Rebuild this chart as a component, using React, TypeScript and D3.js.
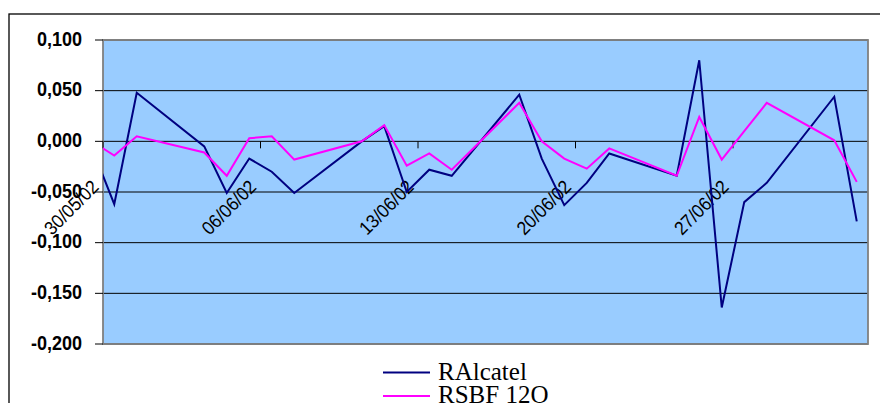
import React from "react";
import * as d3 from "d3";

// Daily returns, trading days only
const dates = [
  "2002-05-29", "2002-05-30", "2002-05-31", "2002-06-03", "2002-06-04",
  "2002-06-05", "2002-06-06", "2002-06-07", "2002-06-10", "2002-06-11",
  "2002-06-12", "2002-06-13", "2002-06-14", "2002-06-17", "2002-06-18",
  "2002-06-19", "2002-06-20", "2002-06-21", "2002-06-24", "2002-06-25",
  "2002-06-26", "2002-06-27", "2002-06-28", "2002-07-01", "2002-07-02",
];

const rAlcatel = [
  -0.006, -0.062, 0.048, -0.005, -0.051, -0.017, -0.030, -0.051, 0.000, 0.015,
  -0.050, -0.028, -0.034, 0.046, -0.017, -0.063, -0.041, -0.012, -0.034, 0.080,
  -0.164, -0.060, -0.041, 0.044, -0.079,
];

const rSbf120 = [
  0.000, -0.014, 0.005, -0.011, -0.034, 0.003, 0.005, -0.018, 0.000, 0.016,
  -0.024, -0.012, -0.028, 0.038, 0.000, -0.017, -0.027, -0.007, -0.034, 0.024,
  -0.018, 0.010, 0.038, 0.001, -0.040,
];

const seriesNames = ["RAlcatel", "RSBF 12O"];
const seriesColors = ["#000080", "#FF00FF"];

const axisStart = "2002-05-30";
const axisEnd = "2002-07-03";
const xTickDates = ["2002-05-30", "2002-06-06", "2002-06-13", "2002-06-20", "2002-06-27"];
const yTicks = [0.1, 0.05, 0, -0.05, -0.1, -0.15, -0.2];

const W = 880;
const H = 403;
const plot = { left: 103, top: 40, right: 868, bottom: 344 };

const parse = d3.utcParse("%Y-%m-%d");
const fmtDate = d3.utcFormat("%d/%m/%y");
const locale = d3.formatLocale({
  decimal: ",",
  thousands: ".",
  grouping: [3],
  currency: ["", " €"],
  minus: "-",
});
const fmtY = locale.format(".3f");

export default function App() {
  const x = d3
    .scaleUtc()
    .domain([parse(axisStart)!, parse(axisEnd)!])
    .range([plot.left, plot.right]);
  const y = d3.scaleLinear().domain([-0.2, 0.1]).range([plot.bottom, plot.top]);

  // points sit in the middle of their day
  const dayMid = (s: string) => d3.utcHour.offset(parse(s)!, 12);

  const series = [rAlcatel, rSbf120].map((vals, i) => ({
    name: seriesNames[i],
    color: seriesColors[i],
    pts: vals.map((v, j) => [dayMid(dates[j]), v] as [Date, number]),
  }));

  const line = d3
    .line<[Date, number]>()
    .x((d) => x(d[0]))
    .y((d) => y(d[1]));

  const y0 = y(0);
  const labelFont = "'Liberation Sans', Arial, sans-serif";

  return (
    <svg
      width={W}
      height={H}
      style={{ position: "fixed", left: 0, top: 0, background: "#fff" }}
    >
      <defs>
        <clipPath id="plotClip">
          <rect
            x={plot.left}
            y={plot.top}
            width={plot.right - plot.left}
            height={plot.bottom - plot.top}
          />
        </clipPath>
      </defs>

      {/* chart area frame */}
      <rect x={9} y={14} width={1000} height={600} fill="#fff" stroke="#000" strokeWidth={1.3} />

      {/* plot area */}
      <rect
        x={plot.left}
        y={plot.top}
        width={plot.right - plot.left}
        height={plot.bottom - plot.top}
        fill="#99CCFF"
      />

      {/* gridlines */}
      {yTicks.map((t) => (
        <line
          key={"g" + t}
          x1={plot.left}
          x2={plot.right}
          y1={y(t)}
          y2={y(t)}
          stroke="#000"
          strokeWidth={1}
        />
      ))}

      <rect
        x={plot.left}
        y={plot.top}
        width={plot.right - plot.left}
        height={plot.bottom - plot.top}
        fill="none"
        stroke="#808080"
        strokeWidth={1.8}
      />

      {/* value axis */}
      {yTicks.map((t) => (
        <g key={"yt" + t}>
          <line x1={95} x2={plot.left} y1={y(t)} y2={y(t)} stroke="#000" strokeWidth={1} />
          <text
            transform={`translate(82,${y(t) + 5.5}) scale(0.88,1)`}
            textAnchor="end"
            fontFamily={labelFont}
            fontWeight="bold"
            fontSize={20.5}
            fill="#000"
          >
            {fmtY(t)}
          </text>
        </g>
      ))}

      {/* date axis at zero */}
      {xTickDates.map((s) => {
        const tx = x(parse(s)!);
        return (
          <g key={"xt" + s}>
            <line x1={tx} x2={tx} y1={y0} y2={y0 + 7} stroke="#000" strokeWidth={1} />
            <text
              transform={`translate(${tx - 3},${188}) rotate(-45) scale(0.92,1)`}
              textAnchor="end"
              fontFamily={labelFont}
              fontSize={19}
              fill="#000"
            >
              {fmtDate(parse(s)!)}
            </text>
          </g>
        );
      })}

      {/* series */}
      <g clipPath="url(#plotClip)">
        {series.map((s) => (
          <path
            key={s.name}
            d={line(s.pts) ?? ""}
            fill="none"
            stroke={s.color}
            strokeWidth={2}
            strokeLinejoin="miter"
          />
        ))}
      </g>

      {/* legend */}
      {series.map((s, i) => (
        <g key={"lg" + s.name}>
          <line
            x1={383}
            x2={430}
            y1={372.5 + i * 23.5}
            y2={372.5 + i * 23.5}
            stroke={s.color}
            strokeWidth={2}
          />
          <text
            x={438}
            y={379.5 + i * 23.5}
            fontFamily="'Liberation Serif', 'Times New Roman', serif"
            fontSize={25}
            fill="#000"
          >
            {s.name}
          </text>
        </g>
      ))}
    </svg>
  );
}
